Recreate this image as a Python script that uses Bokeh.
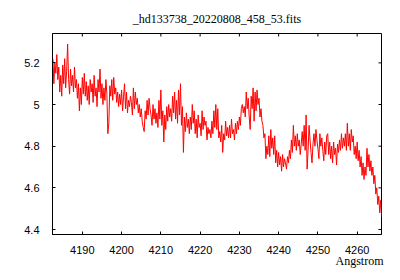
import math
from bokeh.plotting import figure
from bokeh.models import Range1d, FixedTicker, Title, CustomJSTickFormatter
from bokeh.embed import file_html
from bokeh.resources import INLINE

wl_start = 4182.5
wl_step = 0.25
flux = [
    5.22, 5.10, 5.20, 5.15, 5.24, 5.12, 5.18, 5.06, 5.14, 5.04, 5.19, 5.10, 5.22, 5.08, 5.16, 5.29, 5.12, 5.05, 5.17, 5.09,
    5.14, 5.06, 5.18, 5.08, 5.12, 5.03, 5.10, 4.97, 5.08, 5.00, 5.13, 5.05, 5.15, 5.04, 5.11, 5.02, 5.09, 5.00, 5.12, 5.06,
    5.10, 5.01, 5.14, 5.04, 5.08, 4.99, 5.12, 5.06, 5.17, 5.03, 5.10, 5.00, 5.08, 5.02, 5.12, 5.05, 4.86, 4.91, 5.09, 5.04,
    5.12, 5.02, 5.13, 5.05, 5.08, 5.01, 5.06, 4.99, 5.05, 5.00, 5.07, 4.97, 5.04, 5.10, 4.98, 5.06, 4.96, 5.02, 4.99, 5.04,
    5.01, 4.95, 5.08, 4.98, 5.06, 5.00, 5.03, 4.96, 5.00, 4.94, 4.98, 4.92, 4.89, 4.87, 4.97, 4.93, 5.02, 4.95, 5.03, 4.98,
    4.95, 4.90, 5.00, 4.93, 4.98, 4.91, 4.96, 4.89, 5.02, 4.93, 5.07, 4.90, 4.97, 4.82, 4.95, 4.88, 4.99, 4.92, 5.00, 4.94,
    4.98, 4.92, 5.04, 4.96, 5.06, 4.93, 5.02, 4.91, 5.07, 4.95, 5.10, 4.90, 4.99, 4.77, 4.94, 4.87, 4.96, 4.89, 4.93, 4.86,
    4.94, 4.88, 5.00, 4.91, 4.97, 4.86, 4.93, 4.84, 4.95, 4.89, 4.91, 4.85, 4.97, 4.88, 4.94, 4.90, 4.92, 4.83, 4.89, 4.86,
    4.88, 4.84, 4.92, 4.86, 4.97, 4.89, 5.00, 4.88, 4.98, 4.84, 4.87, 4.82, 4.90, 4.77, 4.86, 4.83, 4.92, 4.85, 4.89, 4.84,
    4.90, 4.84, 4.93, 4.86, 4.88, 4.83, 4.91, 4.86, 4.92, 4.88, 4.94, 4.90, 4.98, 5.00, 4.96, 4.99, 4.94, 5.06, 4.98, 5.03,
    4.94, 4.88, 5.04, 4.98, 5.08, 4.92, 5.06, 4.97, 5.07, 5.00, 5.03, 4.94, 4.98, 4.92, 4.90, 4.84, 4.86, 4.74, 4.80, 4.76,
    4.85, 4.75, 4.88, 4.79, 4.84, 4.76, 4.85, 4.72, 4.78, 4.70, 4.77, 4.71, 4.75, 4.68, 4.76, 4.70, 4.74, 4.72, 4.69, 4.75,
    4.72, 4.78, 4.74, 4.83, 4.77, 4.90, 4.80, 4.85, 4.78, 4.86, 4.80, 4.83, 4.76, 4.81, 4.87, 4.80, 4.90, 4.78, 4.95, 4.69,
    4.78, 4.90, 4.83, 4.77, 4.72, 4.81, 4.86, 4.80, 4.88, 4.83, 4.79, 4.74, 4.86, 4.80, 4.84, 4.78, 4.73, 4.82, 4.76, 4.85,
    4.86, 4.76, 4.82, 4.74, 4.80, 4.72, 4.82, 4.76, 4.79, 4.71, 4.81, 4.77, 4.83, 4.78, 4.86, 4.79, 4.84, 4.80, 4.86, 4.78,
    4.91, 4.80, 4.86, 4.78, 4.88, 4.82, 4.85, 4.76, 4.80, 4.74, 4.82, 4.73, 4.78, 4.70, 4.75, 4.66, 4.72, 4.64, 4.70, 4.66,
    4.79, 4.70, 4.76, 4.68, 4.73, 4.66, 4.70, 4.62, 4.66, 4.57, 4.60, 4.52, 4.56, 4.48, 4.54, 4.46,
]
wavelength = [wl_start + wl_step * i for i in range(len(flux))]

x_ticks = [4190, 4200, 4210, 4220, 4230, 4240, 4250, 4260]
y_ticks = [4.4, 4.6, 4.8, 5.0, 5.2]
title_text = "_hd133738_20220808_458_53.fits"
x_label = "Angstrom"

x_min, x_max = 4182.4, 4266.2
y_min, y_max = 4.376, 5.341

p = figure(width=400, height=280, output_backend="svg", toolbar_location=None,
           x_range=Range1d(x_min, x_max), y_range=Range1d(y_min, y_max),
           min_border_left=52, min_border_right=19, min_border_top=33, min_border_bottom=46)
p.title = None
p.add_layout(Title(text=title_text, align="center", text_font="Liberation Serif",
                   text_font_size="12px", text_font_style="normal", text_color="black",
                   standoff=15, offset=-2), "above")
p.add_layout(Title(text=x_label, align="right", text_font="Liberation Serif",
                   text_font_size="12px", text_font_style="normal", text_color="black",
                   standoff=-10, offset=-2), "below")

p.xgrid.visible = False
p.ygrid.visible = False
p.outline_line_color = "black"
p.outline_line_width = 1
p.background_fill_color = "white"
p.border_fill_color = "white"

fmt = CustomJSTickFormatter(code="return String(Math.round(tick*10)/10);")

for ax in p.xaxis:
    ax.ticker = FixedTicker(ticks=x_ticks)
for ax in p.yaxis:
    ax.ticker = FixedTicker(ticks=y_ticks)
    ax.formatter = fmt

for ax in list(p.xaxis) + list(p.yaxis):
    ax.major_tick_in = 3
    ax.major_tick_out = 0
    ax.minor_tick_in = 0
    ax.minor_tick_out = 0
    ax.axis_line_color = "black"
    ax.major_tick_line_color = "black"
    ax.major_label_text_font = "Liberation Sans"
    ax.major_label_text_font_size = "11px"
    ax.major_label_text_color = "black"
p.xaxis.major_label_standoff = 11
p.yaxis.major_label_standoff = 13

# mirrored ticks on top and right edges (clipped to the frame, so only the inner half shows)
p.scatter(x=x_ticks, y=[y_max] * len(x_ticks), marker="dash", size=6, angle=math.pi / 2,
          line_color="black", line_width=1)
p.scatter(x=[x_max] * len(y_ticks), y=y_ticks, marker="dash", size=6, angle=0,
          line_color="black", line_width=1)

p.line(wavelength, flux, line_color="#ff0000", line_width=1)

open("out.html", "w").write(file_html(p, INLINE))
